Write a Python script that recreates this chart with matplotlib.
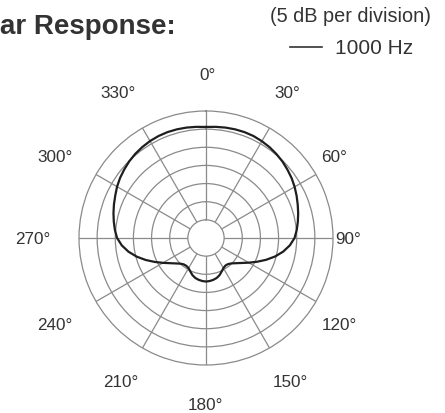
import numpy as np
import matplotlib
matplotlib.use("Agg")
import matplotlib.pyplot as plt
from matplotlib.lines import Line2D

# ---- data (radius in chart units; outer ring = 35, each ring = 5 dB) ----
angles_deg = list(range(0, 361, 5))
response = [30.6, 30.75, 30.9, 31.0, 31.05, 31.0, 30.8, 30.55, 30.2, 29.8, 29.3, 28.8,
            28.2, 27.55, 26.9, 26.3, 25.7, 25.1, 24.4, 23.2, 21.6, 19.7, 17.6, 15.5,
            13.6, 12.0, 10.8, 9.9, 9.4, 9.3, 9.6, 10.2, 10.9, 11.4, 11.7, 11.9,
            12.0,
            11.9, 11.7, 11.4, 10.9, 10.2, 9.6, 9.4, 9.5, 10.0, 10.9, 12.1, 13.7,
            15.6, 17.7, 19.8, 21.7, 23.3, 24.5, 25.2, 25.8, 26.4, 27.0, 27.6, 28.3,
            28.9, 29.4, 29.9, 30.3, 30.6, 30.85, 31.0, 31.05, 31.0, 30.9, 30.75, 30.6]
ring_values = [10, 15, 20, 25, 30]
label_texts = ["0°", "30°", "60°", "90°", "120°", "150°", "180°", "210°", "240°", "270°", "300°", "330°"]
# label centres in pixels (layout)
label_pos_px = [(208, 75), (287, 93), (334, 158), (348, 240), (339, 325), (290, 383),
                (205, 406), (121, 383), (55, 326), (33, 240), (55, 158), (118, 93)]

W, H = 445, 414
fig = plt.figure(figsize=(W / 100, H / 100), dpi=100)
fig.patch.set_facecolor("white")

cx, cy, R = 206, 239, 127
ax = fig.add_axes([(cx - R) / W, (H - cy - R) / H, 2 * R / W, 2 * R / H], projection="polar")
ax.set_theta_zero_location("N")
ax.set_theta_direction(-1)
ax.set_rlim(5, 35)
ax.set_rorigin(0)

grid_color = "#8a8a8a"
ax.set_rticks(ring_values)
ax.set_yticklabels([])
ax.set_thetagrids(np.arange(0, 360, 30), labels=[])
ax.grid(True, color=grid_color, linewidth=0.9)
for s in ax.spines.values():
    s.set_color(grid_color)
    s.set_linewidth(0.9)

theta = np.deg2rad(angles_deg)
ax.plot(theta, response, color="#1e1e1e", linewidth=1.6)

font = "Liberation Sans"
txt_color = "#333333"
for t, (px, py) in zip(label_texts, label_pos_px):
    fig.text(px / W, 1 - py / H, t, ha="center", va="center", fontsize=12.3,
             family=font, color=txt_color)

fig.text(0.0, 1 - 27 / H, "ar Response:", ha="left", va="center", fontsize=20,
         fontweight="bold", family=font, color=txt_color)
fig.text(351 / W, 1 - 16 / H, "(5 dB per division)", ha="center", va="center",
         fontsize=14.3, family=font, color=txt_color)
fig.text(335 / W, 1 - 48 / H, "1000 Hz", ha="left", va="center",
         fontsize=15, family=font, color=txt_color)
fig.add_artist(Line2D([290 / W, 322 / W], [1 - 48 / H, 1 - 48 / H], color=txt_color,
                      linewidth=1.2, transform=fig.transFigure))

fig.savefig("out.png", dpi=100, facecolor="white")
